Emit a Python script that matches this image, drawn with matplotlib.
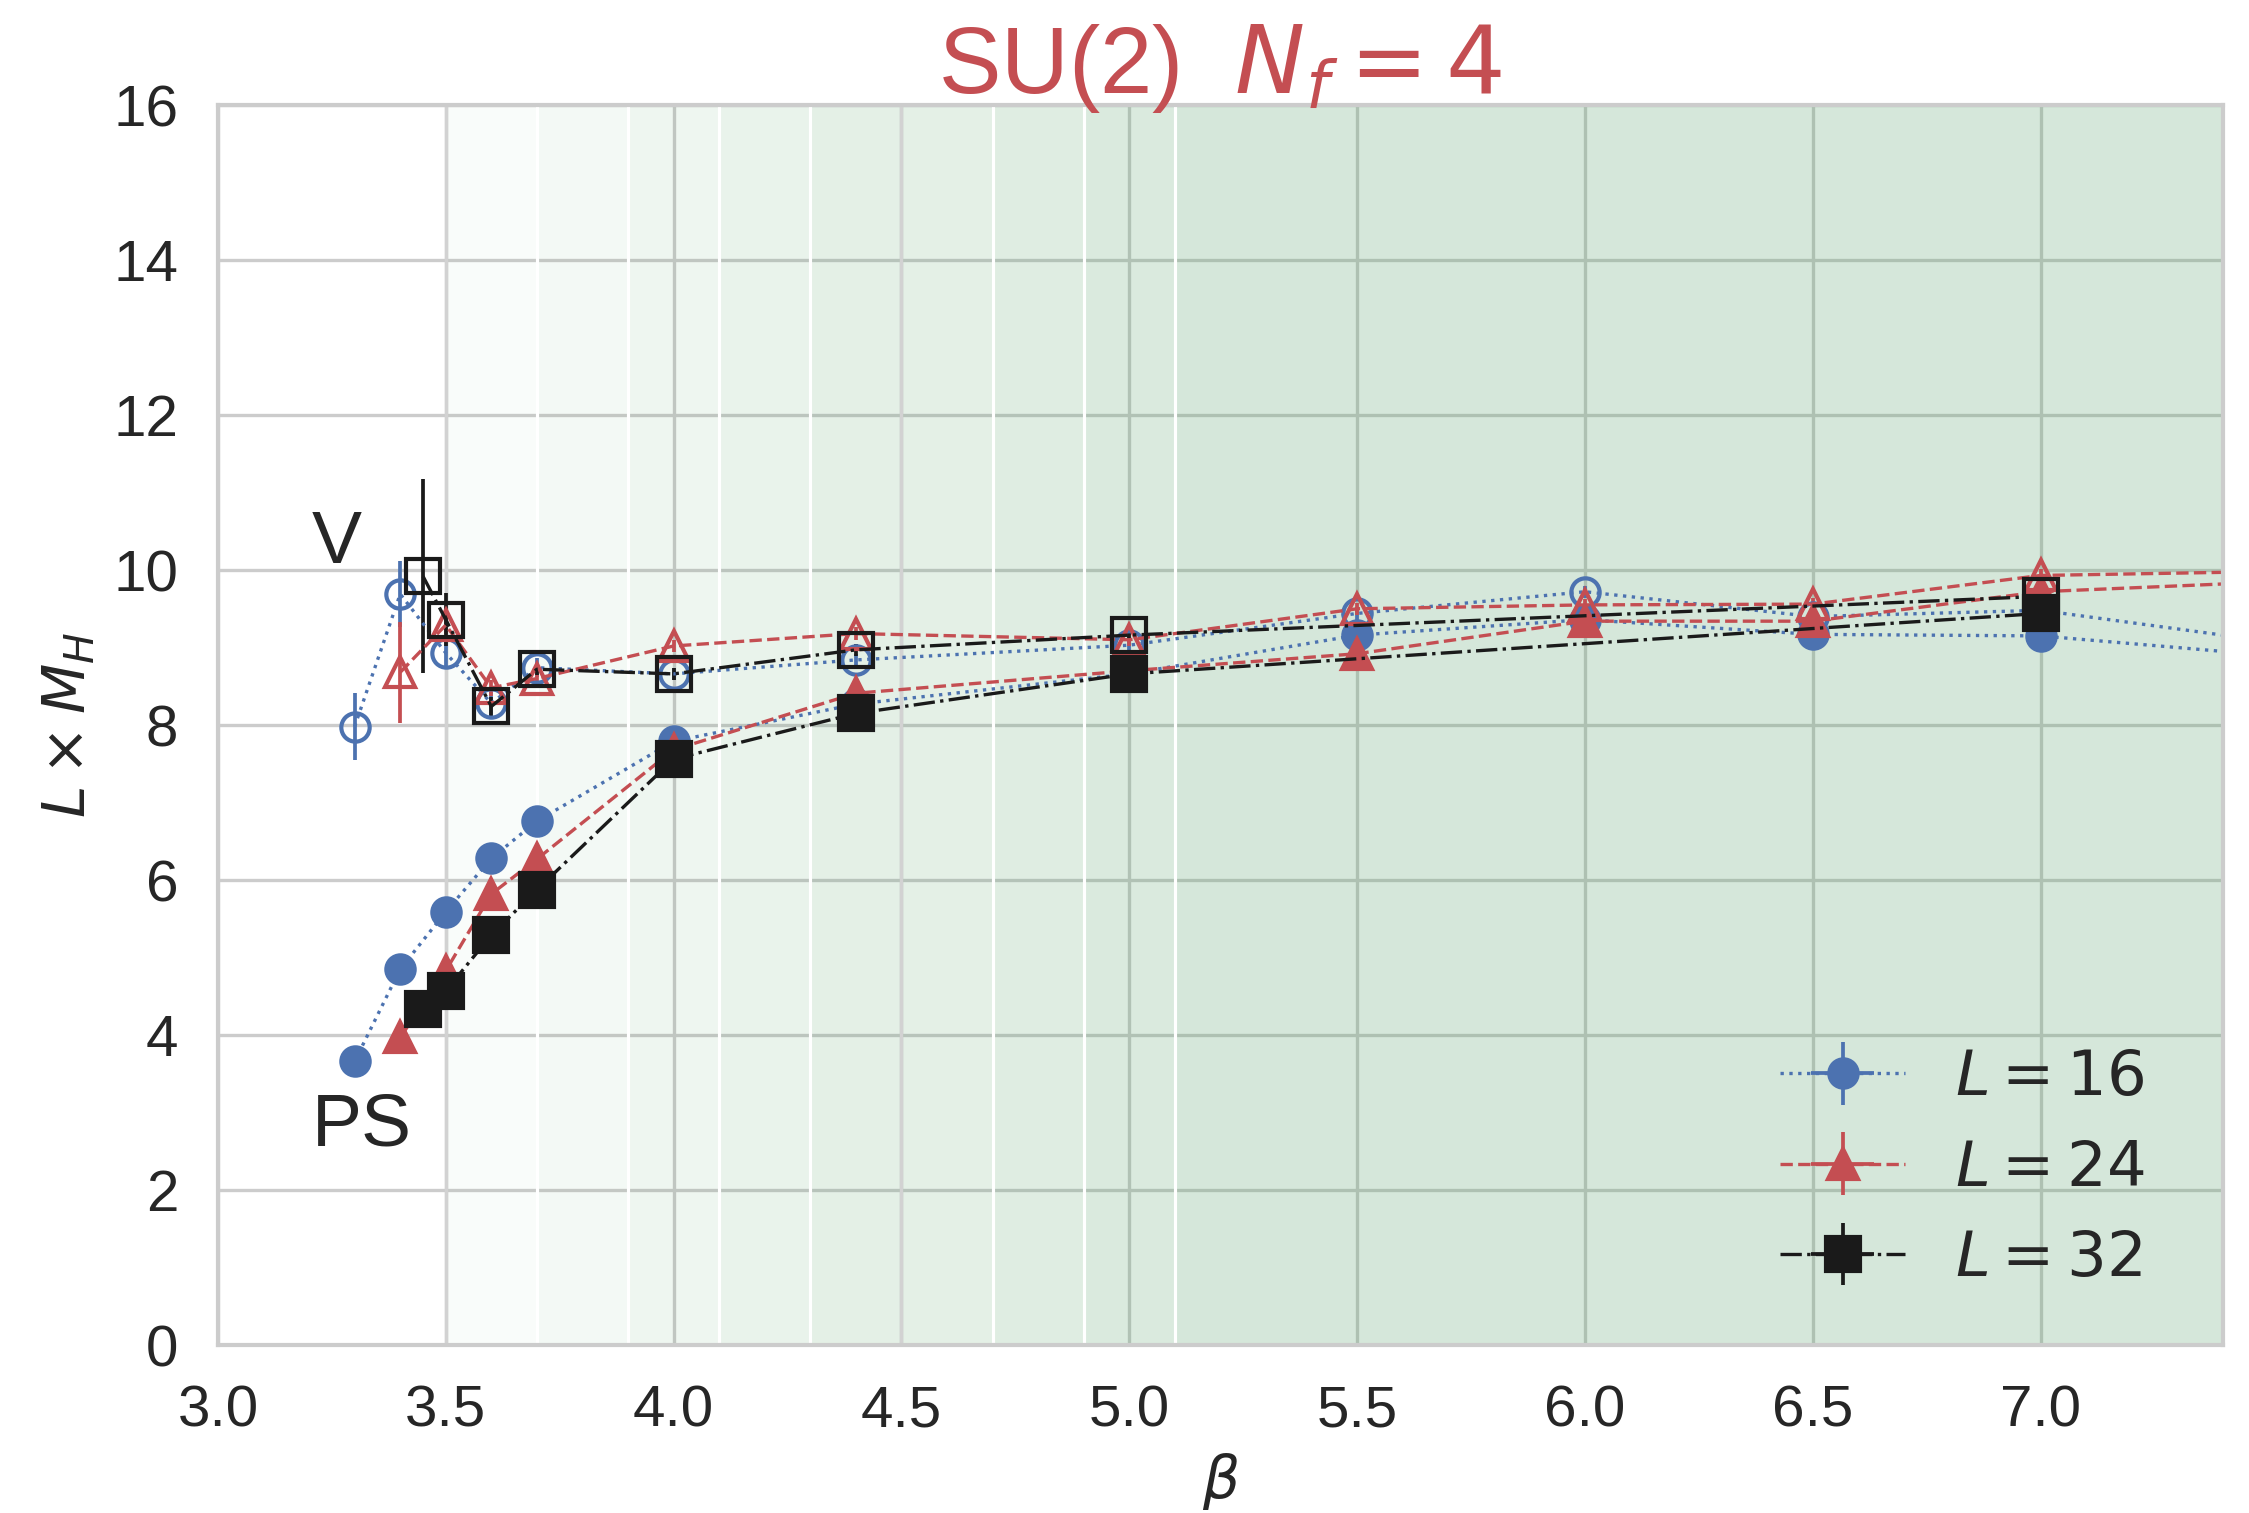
import matplotlib
matplotlib.use('Agg')
import matplotlib.pyplot as plt
import seaborn as sns
import numpy as np

sns.set_style('whitegrid')
plt.rcParams['font.family'] = ['Liberation Sans', 'DejaVu Sans']
plt.rcParams['mathtext.fontset'] = 'dejavusans'

# ---------------- data ----------------
beta16 = [3.3, 3.4, 3.5, 3.6, 3.7, 4.0, 4.4, 5.0, 5.5, 6.0, 6.5, 7.0, 8.0]
ps16 = [3.66, 4.85, 5.59, 6.28, 6.76, 7.79, 8.27, 8.66, 9.16, 9.36, 9.17, 9.15, 8.65]
ps16_err = [0.04, 0.04, 0.04, 0.04, 0.04, 0.04, 0.04, 0.04, 0.05, 0.05, 0.05, 0.05, 0.05]
v16 = [7.98, 9.69, 8.93, 8.28, 8.74, 8.66, 8.84, 9.03, 9.44, 9.72, 9.40, 9.48, 8.68]
v16_err = [0.43, 0.43, 0.17, 0.15, 0.12, 0.08, 0.08, 0.08, 0.08, 0.08, 0.08, 0.08, 0.08]

beta24 = [3.4, 3.5, 3.6, 3.7, 4.0, 4.4, 5.0, 5.5, 6.0, 6.5, 7.0, 8.0]
ps24 = [3.97, 4.83, 5.82, 6.27, 7.68, 8.41, 8.70, 8.92, 9.34, 9.34, 9.72, 9.97]
ps24_err = [0.04, 0.04, 0.04, 0.04, 0.04, 0.04, 0.04, 0.05, 0.05, 0.05, 0.05, 0.05]
v24 = [8.68, 9.29, 8.48, 8.60, 9.02, 9.18, 9.10, 9.50, 9.55, 9.56, 9.93, 10.03]
v24_err = [0.65, 0.12, 0.1, 0.08, 0.08, 0.08, 0.08, 0.08, 0.08, 0.08, 0.08, 0.08]

beta32 = [3.45, 3.5, 3.6, 3.7, 4.0, 4.4, 5.0, 7.0]
ps32 = [4.34, 4.57, 5.29, 5.875, 7.56, 8.15, 8.66, 9.44]
ps32_err = [0.04, 0.04, 0.04, 0.04, 0.04, 0.04, 0.04, 0.05]
v32 = [9.92, 9.36, 8.24, 8.72, 8.66, 8.97, 9.16, 9.66]
v32_err = [1.25, 0.34, 0.12, 0.08, 0.08, 0.08, 0.08, 0.08]

band_starts = [3.5, 3.7, 3.9, 4.1, 4.3, 4.7, 4.9, 5.1]

labels = ['$L=16$', '$L=24$', '$L=32$']
xticks = [3.0, 3.5, 4.0, 4.5, 5.0, 5.5, 6.0, 6.5, 7.0]
yticks = [0, 2, 4, 6, 8, 10, 12, 14, 16]

# ---------------- figure ----------------
fig = plt.figure(figsize=(2249 / 300, 1513 / 300), dpi=300)
ax = fig.add_axes([0.0969, 0.1110, 0.8915, 0.8196])

green = '#55A868'
for s in band_starts:
    ax.axvspan(s, 9.0, color=green, alpha=0.033, lw=0, zorder=0.8)
for s in band_starts[1:]:
    ax.axvline(s, color='white', lw=0.75, zorder=0.9)
for s in [3.5, 4.5]:
    ax.axvline(s, color='#d2d2d2', lw=0.8, zorder=0.9)

blue = '#4C72B0'
red = '#C44E52'
black = '#1a1a1a'

series = [
    (beta16, ps16, ps16_err, v16, v16_err, blue, 'o', ':', 6.8),
    (beta24, ps24, ps24_err, v24, v24_err, red, '^', '--', 7.2),
    (beta32, ps32, ps32_err, v32, v32_err, black, 's', '-.', 8.0),
]

handles = []
for (b, ps, pse, v, ve, c, m, ls, ms), lab in zip(series, labels):
    zeros = np.zeros(len(b))
    h = ax.errorbar(b, ps, yerr=pse, xerr=zeros, color=c, marker=m, ls=ls,
                    lw=0.8, ms=ms, elinewidth=0.9, capsize=0,
                    mec=c, mfc=c, label=lab, zorder=2)
    ax.errorbar(b, v, yerr=ve, xerr=zeros, color=c, marker=m, ls=ls,
                lw=0.8, ms=ms, elinewidth=0.9, capsize=0,
                mec=c, mfc='none', mew=1.0, zorder=2)
    handles.append(h)

ax.text(3.26, 10.34, 'V', fontsize=18, ha='center', va='center', color='#262626')
ax.text(3.316, 2.83, 'PS', fontsize=18, ha='center', va='center', color='#262626')

ax.set_xlim(3.0, 7.4)
ax.set_ylim(0, 16)
ax.set_xticks(xticks)
ax.set_yticks(yticks)
ax.tick_params(axis='both', labelsize=14, pad=6, colors='#262626')
for sp in ax.spines.values():
    sp.set_color('#cccccc')
    sp.set_linewidth(1.0)
ax.grid(True, color='#cccccc', lw=0.8)

ax.set_xlabel(r'$\beta$', fontsize=14, color='#262626', labelpad=3)
ax.set_ylabel(r'$L\times M_H$', fontsize=14, color='#262626', labelpad=4)
ax.set_title(r'SU(2)  $N_f=4$', fontsize=22.5, color=red, pad=3)

leg = ax.legend(handles=handles, loc='lower right', bbox_to_anchor=(0.989, 0.0),
                fontsize=15, frameon=False, handlelength=2.0,
                labelspacing=0.5, borderaxespad=0.5)
for t in leg.get_texts():
    t.set_color('#262626')

fig.savefig('out.png', dpi=300)
